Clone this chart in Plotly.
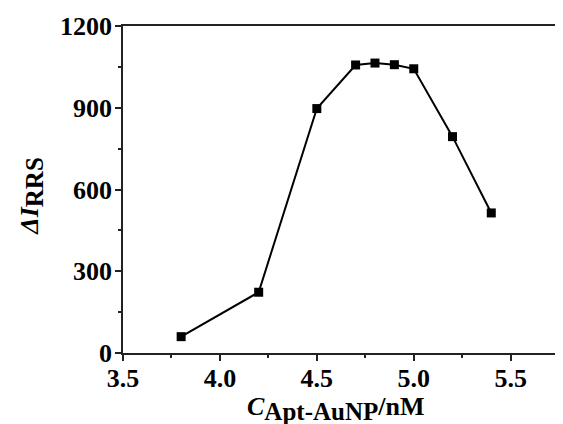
import plotly.graph_objects as go

conc = [3.8, 4.2, 4.5, 4.7, 4.8, 4.9, 5.0, 5.2, 5.4]
delta_i = [60, 223, 897, 1057, 1064, 1058, 1043, 794, 514]

x_ticks = [3.5, 4.0, 4.5, 5.0, 5.5]
x_labels = ["3.5", "4.0", "4.5", "5.0", "5.5"]
y_ticks = [0, 300, 600, 900, 1200]
y_labels = ["0", "300", "600", "900", "1200"]

FONT = "Liberation Serif, Times New Roman, serif"

fig = go.Figure()
fig.add_trace(go.Scatter(
    x=conc, y=delta_i, mode="lines+markers",
    line=dict(color="black", width=2),
    marker=dict(symbol="square", size=9, color="black"),
    cliponaxis=False, showlegend=False,
))

axis_common = dict(
    showline=True, linecolor="#222", linewidth=1.5,
    ticks="outside", ticklen=6, tickwidth=1.5, tickcolor="#222",
    showgrid=False, zeroline=False,
    tickfont=dict(family=FONT, size=26, color="black", weight="bold"),
)

fig.update_xaxes(
    range=[3.5, 5.77], tickvals=x_ticks, ticktext=x_labels,
    mirror=True, ticklabelstandoff=-5,
    minor=dict(ticks="outside", ticklen=3, tickwidth=1.5, tickcolor="#222", dtick=0.25, tick0=3.5),
    **axis_common,
)
fig.update_yaxes(
    range=[0, 1200], tickvals=y_ticks, ticktext=y_labels,
    ticklabelstandoff=-2,
    minor=dict(ticks="outside", ticklen=3, tickwidth=1.5, tickcolor="#222", dtick=150, tick0=0),
    **axis_common,
)

fig.add_annotation(
    text="<i>C</i><sub><span style='font-size:25px'>Apt-AuNP</span></sub>/nM",
    xref="paper", yref="paper",
    x=0.482, y=-0.17, xanchor="center", yanchor="middle", showarrow=False,
    font=dict(family=FONT, size=26, color="black", weight="bold"),
)
fig.add_annotation(
    text="<i>ΔI</i><sub><span style='font-size:25px'>RRS</span></sub>",
    xref="paper", yref="paper",
    x=-0.21, y=0.48, xanchor="center", yanchor="middle", showarrow=False,
    textangle=-90,
    font=dict(family=FONT, size=26, color="black", weight="bold"),
)

# page body has an 8px margin; compensate so the plot lands where the reference has it
fig.update_layout(
    width=555, height=416,
    margin=dict(l=115, r=0, t=18, b=71),
    paper_bgcolor="white", plot_bgcolor="white",
)

fig.write_html("out.html")
